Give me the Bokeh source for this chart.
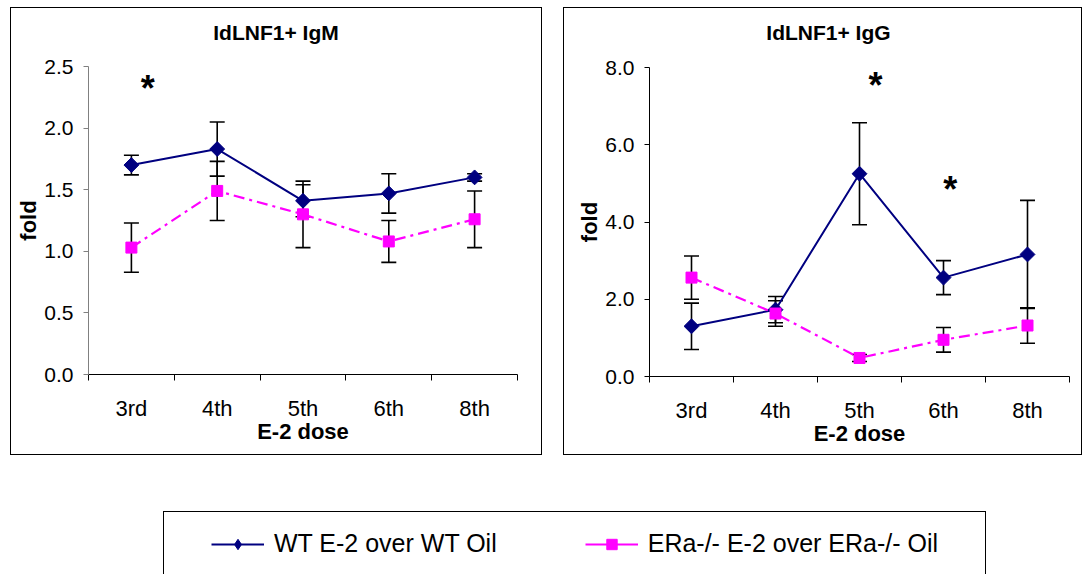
from math import pi
from bokeh.plotting import figure
from bokeh.models import (ColumnDataSource, Whisker, TeeHead, FixedTicker, NumeralTickFormatter,
                          Range1d, Legend, LegendItem, Spacer, Div)
from bokeh.layouts import row, column
from bokeh.core.properties import value
from bokeh.embed import file_html
from bokeh.resources import INLINE

# ---------------- data ----------------
doses = ["3rd", "4th", "5th", "6th", "8th"]

igm_wt = [1.70, 1.83, 1.41, 1.47, 1.60]
igm_wt_err = [0.08, 0.22, 0.13, 0.16, 0.03]
igm_ko = [1.03, 1.49, 1.30, 1.08, 1.26]
igm_ko_err = [0.20, 0.24, 0.27, 0.17, 0.23]

igg_wt = [1.30, 1.73, 5.25, 2.56, 3.16]
igg_wt_err = [0.60, 0.34, 1.32, 0.44, 1.40]
igg_ko = [2.56, 1.63, 0.48, 0.95, 1.32]
igg_ko_err = [0.56, 0.33, 0.09, 0.32, 0.46]

igm_star_dose = ["3rd"]
igm_star_y = [2.36]
igg_star_dose = ["5th", "6th"]
igg_star_y = [7.66, 4.96]

series_labels = ["WT E-2 over WT Oil", "ERa-/- E-2 over ERa-/- Oil"]

# ---------------- styles ----------------
FONT = "Liberation Sans"
WT_COLOR = "#000080"
KO_COLOR = "#FF00FF"
KO_DASH = "11 5 3 5"
TITLE_H = 42


def panel(title, wt, wt_err, ko, ko_err, ymax, ystep, star_dose, star_y, star_dx,
          box_w, box_h, mb_left, mb_right, mb_top, mb_bottom, axis_color, title_shift):
    n = len(doses)
    xs = [doses.index(d) + 0.5 for d in doses]
    inner_w = box_w - 2
    p = figure(width=inner_w, height=box_h - 2 - TITLE_H, title=None,
               output_backend="svg", toolbar_location=None,
               x_range=Range1d(0, n), y_range=Range1d(0, ymax),
               min_border_left=mb_left, min_border_right=mb_right,
               min_border_top=mb_top, min_border_bottom=mb_bottom,
               background_fill_color="white", border_fill_color="white", margin=0)
    p.outline_line_color = None
    p.xgrid.visible = False
    p.ygrid.visible = False

    # y axis
    ticks = []
    t = 0.0
    while t <= ymax + 1e-9:
        ticks.append(round(t, 3))
        t += ystep
    p.yaxis.ticker = FixedTicker(ticks=ticks)
    p.yaxis.formatter = NumeralTickFormatter(format="0.0")
    p.yaxis.minor_tick_line_color = None
    p.yaxis.major_tick_in = 0
    p.yaxis.major_tick_out = 5
    p.yaxis.axis_line_color = axis_color
    p.yaxis.major_tick_line_color = axis_color
    p.yaxis.major_label_text_font = FONT
    p.yaxis.major_label_text_font_size = "21px"
    p.yaxis.major_label_text_color = "black"
    p.yaxis.major_label_standoff = 10
    p.yaxis.axis_label = "fold"
    p.yaxis.axis_label_text_font = FONT
    p.yaxis.axis_label_text_font_size = "22px"
    p.yaxis.axis_label_text_font_style = "bold"
    p.yaxis.axis_label_text_color = "black"
    p.yaxis.axis_label_standoff = 0

    # x axis (labels at category centres, tick marks at boundaries)
    p.xaxis.ticker = FixedTicker(ticks=xs, minor_ticks=list(range(n + 1)))
    p.xaxis.major_label_overrides = {x: d for x, d in zip(xs, doses)}
    p.xaxis.major_tick_line_color = None
    p.xaxis.major_tick_in = 0
    p.xaxis.major_tick_out = 0
    p.xaxis.minor_tick_in = 0
    p.xaxis.minor_tick_out = 6
    p.xaxis.minor_tick_line_color = "black"
    p.xaxis.axis_line_color = "black"
    p.xaxis.major_label_text_font = FONT
    p.xaxis.major_label_text_font_size = "22px"
    p.xaxis.major_label_text_color = "black"
    p.xaxis.major_label_standoff = 15
    p.xaxis.axis_label = "E-2 dose"
    p.xaxis.axis_label_text_font = FONT
    p.xaxis.axis_label_text_font_size = "22px"
    p.xaxis.axis_label_text_font_style = "bold"
    p.xaxis.axis_label_text_color = "black"
    p.xaxis.axis_label_standoff = -5

    src = ColumnDataSource(dict(
        x=xs,
        wt=wt, wt_lo=[v - e for v, e in zip(wt, wt_err)], wt_hi=[v + e for v, e in zip(wt, wt_err)],
        ko=ko, ko_lo=[v - e for v, e in zip(ko, ko_err)], ko_hi=[v + e for v, e in zip(ko, ko_err)],
    ))

    p.line("x", "wt", source=src, line_color=WT_COLOR, line_width=2)
    p.line("x", "ko", source=src, line_color=KO_COLOR, line_width=2.2, line_dash=KO_DASH)

    for lo, hi in (("wt_lo", "wt_hi"), ("ko_lo", "ko_hi")):
        w = Whisker(base="x", lower=lo, upper=hi, source=src, dimension="height",
                    line_color="black", line_width=1.6,
                    upper_head=TeeHead(size=15, line_width=1.6, line_color="black"),
                    lower_head=TeeHead(size=15, line_width=1.6, line_color="black"),
                    level="underlay")
        p.add_layout(w)

    p.scatter("x", "wt", source=src, marker="square", angle=pi / 4, size=10.5,
              fill_color=WT_COLOR, line_color=WT_COLOR)
    p.scatter("x", "ko", source=src, marker="square", size=11,
              fill_color=KO_COLOR, line_color=KO_COLOR)

    star_src = ColumnDataSource(dict(
        x=[doses.index(d) + 0.5 + dx for d, dx in zip(star_dose, star_dx)],
        y=star_y, t=["*"] * len(star_y)))
    p.text("x", "y", text="t", source=star_src, text_font=value(FONT),
           text_font_size="36px", text_font_style="bold", text_align="center",
           text_baseline="alphabetic", y_offset=5, text_color="black")

    head = Div(text=title, width=inner_w, height=TITLE_H, margin=0,
               styles={"font-family": FONT, "font-size": "21px", "font-weight": "bold",
                       "color": "black", "text-align": "center", "box-sizing": "border-box",
                       "line-height": "34px", "padding-top": "8px",
                       "padding-left": f"{title_shift}px"})
    return column(head, p, width=box_w, height=box_h, margin=0,
                  styles={"border": "1px solid #000", "background": "white",
                          "box-sizing": "border-box"})


left = panel("IdLNF1+ IgM", igm_wt, igm_wt_err, igm_ko, igm_ko_err, 2.5, 0.5,
             igm_star_dose, igm_star_y, [0.19],
             532, 448, 77, 24, 16, 80, "#808080", 0)
right = panel("IdLNF1+ IgG", igg_wt, igg_wt_err, igg_ko, igg_ko_err, 8.0, 2.0,
              igg_star_dose, igg_star_y, [0.19, 0.08],
              519, 448, 85, 12, 17, 78, "black", 12)

# ---------------- legend box ----------------
leg = figure(width=823, height=63, output_backend="svg", toolbar_location=None,
             x_range=Range1d(0, 1), y_range=Range1d(0, 1),
             x_axis_type=None, y_axis_type=None, min_border=0,
             styles={"border-top": "1px solid #000", "border-left": "1px solid #000",
                     "border-right": "1px solid #000"})
leg.outline_line_color = None
leg.xgrid.visible = False
leg.ygrid.visible = False
nan = float("nan")
l1 = leg.line("x", "y", source=ColumnDataSource(dict(x=[nan], y=[nan])),
              line_color=WT_COLOR, line_width=2)
m1 = leg.scatter("x", "y", source=ColumnDataSource(dict(x=[nan], y=[nan])), marker="diamond",
                 size=16, fill_color=WT_COLOR, line_color=WT_COLOR)
l2 = leg.line("x", "y", source=ColumnDataSource(dict(x=[nan], y=[nan])),
              line_color=KO_COLOR, line_width=2)
m2 = leg.scatter("x", "y", source=ColumnDataSource(dict(x=[nan], y=[nan])), marker="square",
                 size=11, fill_color=KO_COLOR, line_color=KO_COLOR)
legend = Legend(items=[LegendItem(label=series_labels[0], renderers=[l1, m1]),
                       LegendItem(label=series_labels[1], renderers=[l2, m2])],
                orientation="horizontal", location=(47, 17), spacing=88,
                label_standoff=10, glyph_width=53, glyph_height=26, label_height=26,
                label_text_font=FONT, label_text_font_size="25px", label_text_color="black",
                padding=0, margin=0, border_line_color=None, background_fill_alpha=0)
leg.add_layout(legend, "center")

layout = column(
    Spacer(height=7),
    row(Spacer(width=10), left, Spacer(width=21), right),
    Spacer(height=56),
    row(Spacer(width=163), leg),
)

open("out.html", "w").write(file_html(layout, INLINE))
